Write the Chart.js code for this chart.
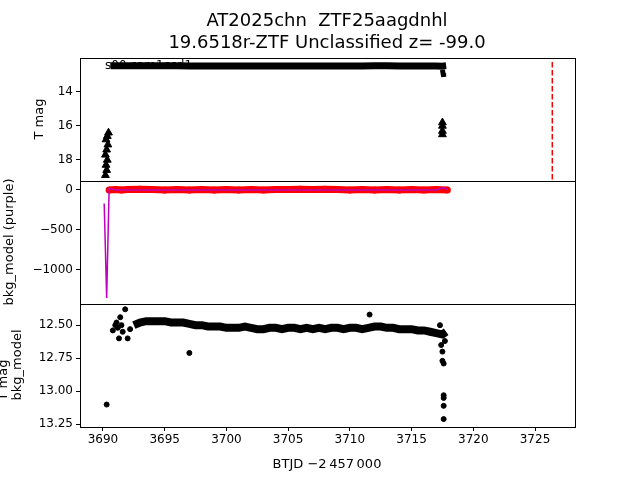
<!DOCTYPE html>
<html><head><meta charset="utf-8">
<script src="https://cdn.jsdelivr.net/npm/chart.js@4"></script>
<style>body{margin:0;background:#fff}</style></head>
<body><canvas id="c" width="640" height="480"></canvas>
<script>
const titleLines = ['AT2025chn  ZTF25aagdnhl', '19.6518r-ZTF Unclassified z= -99.0'];
const xTicks = [3690, 3695, 3700, 3705, 3710, 3715, 3720, 3725];
const topTicks = [14, 16, 18];
const midTicks = [0, -500, -1000];
const botTicks = [12.50, 12.75, 13.00, 13.25];
const peakLineX = 3726.4;

const bandX = [3692.5,3693,3693.5,3694,3694.5,3695,3695.5,3696,3696.5,3697,3697.5,3698,3698.5,3699,3699.5,3700,3700.5,3701,3701.5,3702,3702.5,3703,3703.5,3704,3704.5,3705,3705.5,3706,3706.5,3707,3707.5,3708,3708.5,3709,3709.5,3710,3710.5,3711,3711.5,3712,3712.5,3713,3713.5,3714,3714.5,3715,3715.5,3716,3716.5,3717,3717.5,3717.8];
const botBand = [12.50,12.48,12.47,12.47,12.47,12.47,12.48,12.48,12.48,12.49,12.50,12.50,12.51,12.51,12.51,12.52,12.52,12.52,12.51,12.52,12.53,12.53,12.52,12.52,12.53,12.52,12.52,12.53,12.52,12.53,12.52,12.53,12.52,12.52,12.53,12.52,12.52,12.53,12.52,12.51,12.51,12.52,12.52,12.53,12.53,12.53,12.54,12.54,12.55,12.56,12.57,12.55];
const botOutX = [3690.3,3690.8,3691,3691.1,3691.2,3691.3,3691.4,3691.5,3691.6,3691.8,3692,3692.2,3697,3711.6,3717.3,3717.4,3717.5,3717.5,3717.6,3717.6,3717.6,3717.6,3717.6,3717.7];
const botOutY = [13.10,12.54,12.50,12.48,12.52,12.60,12.44,12.50,12.55,12.38,12.60,12.53,12.71,12.42,12.50,12.65,12.70,12.77,12.79,13.03,13.05,13.11,13.21,12.62];

const topX = [3690.6,3691,3691.5,3692,3692.5,3693,3694,3695,3696,3697,3698,3699,3700,3701,3702,3703,3704,3705,3706,3707,3708,3709,3710,3711,3712,3713,3714,3715,3716,3717,3717.5,3717.8];
const topY = [12.46,12.45,12.46,12.46,12.45,12.45,12.46,12.46,12.46,12.47,12.47,12.47,12.47,12.47,12.47,12.47,12.47,12.47,12.47,12.47,12.47,12.47,12.47,12.47,12.46,12.46,12.47,12.47,12.47,12.47,12.48,12.45];
const hookX = [3717.5,3717.55,3717.6];
const hookY = [12.7,12.9,13.1];
const triX = [3690.2,3690.3,3690.25,3690.35,3690.2,3690.3,3690.4,3690.25,3690.35,3690.45,3717.5,3717.5,3717.5,3717.5];
const triY = [18.9,18.6,18.3,18.0,17.7,17.4,17.1,16.8,16.6,16.4,15.8,16.0,16.3,16.5];

const redX = [3690.5,3691,3691.5,3692,3693,3694,3695,3696,3697,3698,3699,3700,3701,3702,3703,3704,3705,3706,3707,3708,3709,3710,3711,3712,3713,3714,3715,3716,3717,3717.9];
const redY = [0,5,0,5,10,5,0,5,0,5,0,5,0,5,0,5,5,10,5,10,5,0,5,0,5,0,5,0,5,0];
const purpleX = [3690.1,3690.3,3690.5,3691,3692,3700,3710,3717,3717.6,3717.9];
const purpleY = [-170,-1350,20,0,0,0,0,0,30,0];

const pts = (xs, ys) => xs.map((x, i) => ({x, y: ys[i]}));

const frame = {
  id: 'frame',
  afterDraw(ch) {
    const c = ch.ctx, a = ch.chartArea;
    c.save();
    c.strokeStyle = '#000'; c.lineWidth = 1;
    c.strokeRect(a.left + 0.5, a.top + 0.5, a.right - a.left, a.bottom - a.top);
    ['yM', 'yB'].forEach(id => {
      const y = Math.round(ch.scales[id].top) + 0.5;
      c.beginPath(); c.moveTo(a.left, y); c.lineTo(a.right, y); c.stroke();
    });
    const px = ch.scales.x.getPixelForValue(peakLineX);
    c.strokeStyle = 'red'; c.lineWidth = 1.5; c.setLineDash([5.5, 2.5]);
    c.beginPath(); c.moveTo(px, ch.scales.yT.top + 4); c.lineTo(px, ch.scales.yT.bottom); c.stroke();
    c.setLineDash([]);
    c.fillStyle = '#000';
    c.font = '18px "DejaVu Sans"'; c.textAlign = 'center'; c.textBaseline = 'alphabetic';
    c.fillText(titleLines[0], 327, 26);
    c.fillText(titleLines[1], 327, 48);
    c.font = '12px "DejaVu Sans"';
    c.textAlign = 'left';
    c.fillText('s00 cam1ccd1', 105, 69);
    c.font = '13px "DejaVu Sans"';
    const vt = (t, x, y) => { c.save(); c.translate(x, y); c.rotate(-Math.PI / 2); c.textAlign = 'center'; c.textBaseline = 'middle'; c.fillText(t, 0, 0); c.restore(); };
    vt('T mag', 40, 119);
    vt('bkg_model (purple)', 10, 242);
    vt('T mag', 4, 380);
    vt('bkg_model', 18, 365);
    c.textAlign = 'center';
    c.fillText('BTJD \u22122\u2009457\u2009000', 327, 468);
    c.restore();
  }
};

const yCommon = (ticks, fmt) => ({
  position: 'left', stack: 's', offset: false,
  grid: { display: true, drawOnChartArea: false, tickLength: 4, color: '#000' },
  border: { display: true, color: '#000' },
  ticks: { color: '#000', font: { size: 12, family: 'DejaVu Sans' }, padding: 3, callback: fmt },
  afterBuildTicks: s => { s.ticks = ticks.map(v => ({ value: v })); },
  afterFit: s => { s.width = 80; }
});

new Chart(document.getElementById('c'), {
  type: 'scatter',
  data: { datasets: [
    { data: pts(topX, topY), yAxisID: 'yT', showLine: true, borderColor: '#000', borderWidth: 7, pointRadius: 0 },
    { data: pts(hookX, hookY), yAxisID: 'yT', showLine: true, borderColor: '#000', borderWidth: 5, pointRadius: 0 },
    { data: pts(triX, triY), yAxisID: 'yT', pointStyle: 'triangle', pointRadius: 4.5, backgroundColor: '#000', borderColor: '#000' },
    { data: pts(purpleX, purpleY), yAxisID: 'yM', showLine: true, borderColor: '#c000c0', borderWidth: 1.5, pointRadius: 0 },
    { data: pts(redX, redY), yAxisID: 'yM', showLine: true, borderColor: 'red', borderWidth: 7, pointRadius: 3.5, pointBorderWidth: 0, backgroundColor: 'red' },
    { data: pts(bandX, botBand), yAxisID: 'yB', showLine: true, borderColor: '#000', borderWidth: 8, pointRadius: 0 },
    { data: pts(botOutX, botOutY), yAxisID: 'yB', pointRadius: 2.5, backgroundColor: '#000', borderColor: '#000' }
  ]},
  options: {
    responsive: false, animation: false,
    layout: { padding: { top: 58, right: 65, left: 0, bottom: 0 } },
    plugins: { legend: { display: false }, tooltip: { enabled: false } },
    elements: { line: { tension: 0 } },
    scales: {
      x: { type: 'linear', min: 3688.14, max: 3728.24,
        grid: { display: true, drawOnChartArea: false, tickLength: 4, color: '#000' },
        border: { display: true, color: '#000' },
        ticks: { color: '#000', font: { size: 12, family: 'DejaVu Sans' }, padding: 2, callback: v => String(v) },
        afterBuildTicks: s => { s.ticks = xTicks.map(v => ({ value: v })); },
        afterFit: s => { s.height = 53; } },
      yB: Object.assign(yCommon(botTicks, v => v.toFixed(2)), { min: 12.34, max: 13.27, reverse: true, stackWeight: 1 }),
      yM: Object.assign(yCommon(midTicks, v => v === 0 ? '0' : '\u2212' + Math.abs(v)), { min: -1425, max: 112, stackWeight: 1 }),
      yT: Object.assign(yCommon(topTicks, v => String(v)), { min: 12.0, max: 19.24, reverse: true, stackWeight: 1 })
    }
  },
  plugins: [frame]
});
</script></body></html>
